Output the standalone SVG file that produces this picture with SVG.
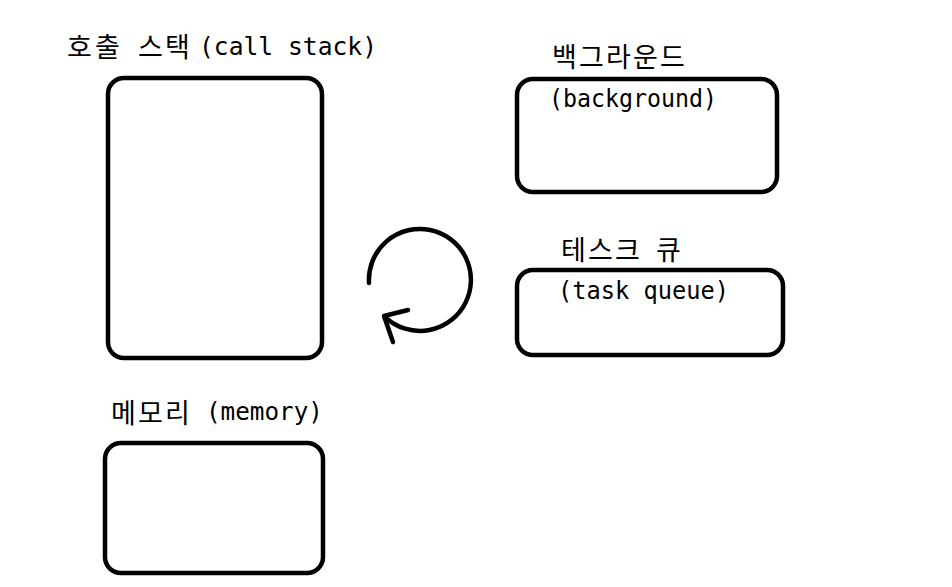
<svg xmlns="http://www.w3.org/2000/svg" width="952" height="587" viewBox="0 0 952 587">
<style>
.box{fill:none;stroke:#000;stroke-width:4.5}
.ko{font-family:"Noto Sans CJK KR",sans-serif;font-size:27px;fill:#000}
.en{font-family:"DejaVu Sans Mono","Liberation Mono",monospace;font-size:25px;fill:#000}
.arc{fill:none;stroke:#000;stroke-width:4.5;stroke-linecap:round;stroke-linejoin:round}
</style>
<rect width="952" height="587" fill="#fff"/>
<g id="callstack">
<text class="ko" x="67 95 138 165" y="57">호출스택</text>
<text class="en" x="199" y="55" textLength="178" lengthAdjust="spacingAndGlyphs">(call stack)</text>
<rect class="box" x="108" y="78" width="214" height="280" rx="16"/>
</g>
<g id="background">
<text class="ko" x="552 579 606 633 660" y="67">백그라운드</text>
<rect class="box" x="517" y="79" width="260" height="113" rx="16"/>
<text class="en" x="549" y="107" textLength="168" lengthAdjust="spacingAndGlyphs">(background)</text>
</g>
<g id="taskqueue">
<text class="ko" x="561 588 615 656" y="260">테스크큐</text>
<rect class="box" x="517" y="270" width="266" height="85" rx="16"/>
<text class="en" x="558" y="299" textLength="171" lengthAdjust="spacingAndGlyphs">(task queue)</text>
</g>
<g id="memory">
<text class="ko" x="111 138 165" y="423">메모리</text>
<text class="en" x="206" y="420" textLength="117" lengthAdjust="spacingAndGlyphs">(memory)</text>
<rect class="box" x="105" y="443" width="218" height="130" rx="16"/>
</g>
<g id="connectors">
<path class="arc" d="M 369 283 A 51 51 0 1 1 386 318"/>
<path class="arc" d="M 408 310 L 384 316 L 393 342"/>
</g>
</svg>
